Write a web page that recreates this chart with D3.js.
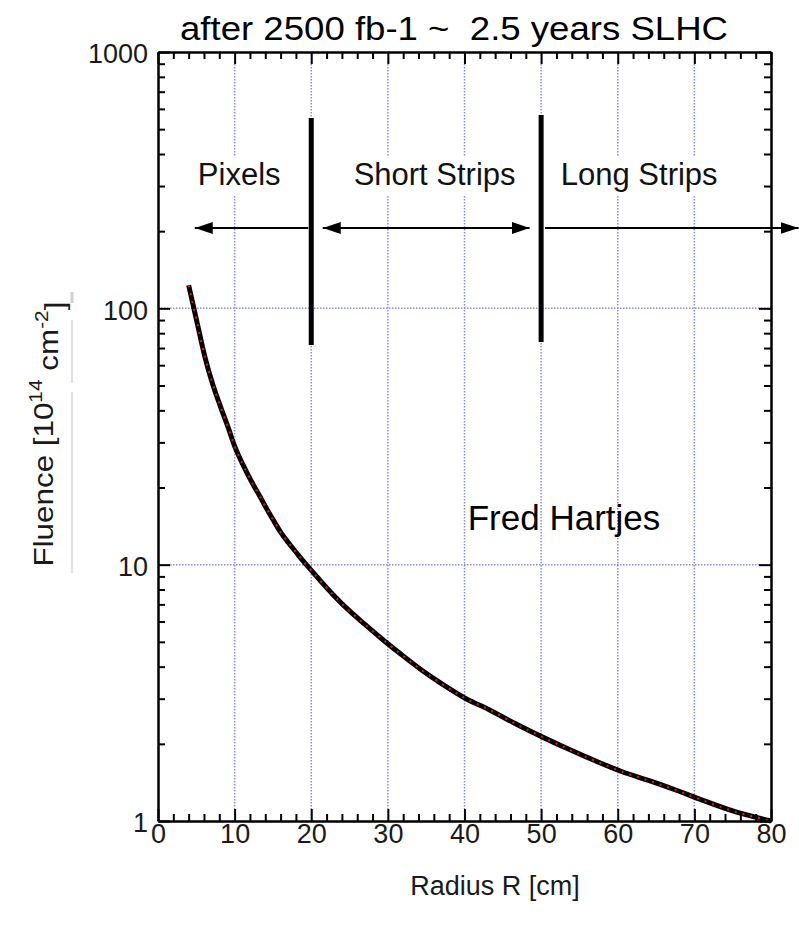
<!DOCTYPE html>
<html lang="en">
    <head>
        <meta charset="utf-8">
        <title>Fluence vs radius</title>
        <script type="text/javascript" src="https://d3js.org/d3.v7.min.js"></script>
        <style type="text/css">
            body{margin:0; background:#fff; font-family:"Liberation Sans", Arial, sans-serif;}
        </style>
    </head>
    <body>
        <div id="chart"></div>
        <script type="text/javascript">

        // values
        var radius  = [4, 5.1, 6.1, 7.1, 8.2, 9.2, 10, 11.1, 12.2, 13.2, 14, 15, 16, 17, 18.1, 19.1, 20, 21.2, 23.1, 25, 27, 29, 31.6, 34.3, 36.9, 40.2, 43.1, 46.6, 50.4, 53.7, 57.2, 60.5, 64.3, 67.3, 70.6, 74.8, 80]
        var fluence = [123, 88, 65, 51, 41, 34, 29, 24.5, 21.1, 18.7, 16.9, 15, 13.4, 12.2, 11.1, 10.2, 9.5, 8.65, 7.5, 6.6, 5.85, 5.2, 4.5, 3.9, 3.45, 3.0, 2.73, 2.4, 2.11, 1.9, 1.71, 1.56, 1.43, 1.33, 1.22, 1.1, 1.0]

        var xTicks = [0, 10, 20, 30, 40, 50, 60, 70, 80]
        var yTicks = [1, 10, 100, 1000]
        var xGrid = [10, 20, 30, 40, 50, 60, 70]
        var yGrid = [10, 100]

        // detector regions: boundaries and labels
        var boundaries = [20, 50]
        var regionNames = ["Pixels", "Short Strips", "Long Strips"]
        var regionCentres = [10.6, 36.1, 62.8]

        var margin = {top: 52, bottom: 119, left: 158, right: 28}
        var W = 799, H = 940
        var w = W - margin.left - margin.right
        var h = H - margin.top - margin.bottom

        var svg = d3.select("#chart")
                    .append("svg")
                    .attr("width", W)
                    .attr("height", H)
        var g = svg.append("g")
                   .attr("transform", "translate(" + margin.left + "," + margin.top + ")")

        var xScale = d3.scaleLinear().domain([0, 80]).range([0, w])
        var yScale = d3.scaleLog().domain([1, 1000]).range([h, 0])

        // title
        svg.append("text")
           .attr("x", 454)
           .attr("y", 40)
           .attr("text-anchor", "middle")
           .attr("font-size", "34px")
           .attr("textLength", 548)
           .attr("lengthAdjust", "spacingAndGlyphs")
           .style("white-space", "pre")
           .text("after 2500 fb-1 ~  2.5 years SLHC")

        // dotted grid
        var gridColor = "#8c8cf0"
        g.append("g").selectAll("line")
         .data(xGrid).enter().append("line")
         .attr("x1", function(d){ return xScale(d) })
         .attr("x2", function(d){ return xScale(d) })
         .attr("y1", 0).attr("y2", h)
         .attr("stroke", gridColor).attr("stroke-width", 1.5)
         .attr("stroke-dasharray", "1.5,1.5")
        g.append("g").selectAll("line")
         .data(yGrid).enter().append("line")
         .attr("x1", 0).attr("x2", w)
         .attr("y1", function(d){ return yScale(d) })
         .attr("y2", function(d){ return yScale(d) })
         .attr("stroke", gridColor).attr("stroke-width", 1.5)
         .attr("stroke-dasharray", "1.5,1.5")

        // region labels with white boxes that break the grid
        var labelY = 185
        var labels = g.append("g")
        regionNames.forEach(function(name, i){
            var t = labels.append("text")
                     .attr("x", xScale(regionCentres[i]))
                     .attr("y", labelY - margin.top)
                     .attr("text-anchor", "middle")
                     .attr("font-size", "31px")
                     .attr("fill", "#111")
                     .text(name)
            var bb = t.node().getBBox()
            labels.insert("rect", "text")
             .attr("x", bb.x - 4).attr("y", bb.y)
             .attr("width", bb.width + 8).attr("height", bb.height + 4)
             .attr("fill", "#fff")
        })
        labels.selectAll("text").raise()

        // arrows
        var defs = svg.append("defs")
        defs.append("marker")
            .attr("id", "head")
            .attr("viewBox", "0 0 18 12")
            .attr("refX", 18).attr("refY", 6)
            .attr("markerWidth", 18).attr("markerHeight", 12)
            .attr("markerUnits", "userSpaceOnUse")
            .attr("orient", "auto-start-reverse")
            .append("path").attr("d", "M0,0 L18,6 L0,12 Z").attr("fill", "#000")

        var arrowY = 228 - margin.top
        g.append("line")
         .attr("x1", xScale(20) - 3).attr("x2", xScale(4.8))
         .attr("y1", arrowY).attr("y2", arrowY)
         .attr("stroke", "#000").attr("stroke-width", 1.8)
         .attr("marker-end", "url(#head)")
        g.append("line")
         .attr("x1", xScale(21.5)).attr("x2", xScale(48.5))
         .attr("y1", arrowY).attr("y2", arrowY)
         .attr("stroke", "#000").attr("stroke-width", 1.8)
         .attr("marker-start", "url(#head)")
         .attr("marker-end", "url(#head)")
        g.append("line")
         .attr("x1", xScale(50.5)).attr("x2", xScale(83.6))
         .attr("y1", arrowY).attr("y2", arrowY)
         .attr("stroke", "#000").attr("stroke-width", 1.8)
         .attr("marker-end", "url(#head)")

        // boundary bars
        g.append("g").selectAll("line")
         .data(boundaries).enter().append("line")
         .attr("x1", function(d){ return xScale(d) })
         .attr("x2", function(d){ return xScale(d) })
         .attr("y1", function(d){ return d == 20 ? 118 - margin.top : 115 - margin.top })
         .attr("y2", function(d){ return d == 20 ? 345 - margin.top : 342 - margin.top })
         .attr("stroke", "#000").attr("stroke-width", 5)

        // curve: thick black with red dots
        var pts = radius.map(function(r, i){ return [r, fluence[i]] })
        var line = d3.line()
                     .x(function(d){ return xScale(d[0]) })
                     .y(function(d){ return yScale(d[1]) })
                     .curve(d3.curveMonotoneX)
        g.append("path").datum(pts)
         .attr("d", line)
         .attr("fill", "none").attr("stroke", "#000").attr("stroke-width", 5)
         .attr("stroke-linejoin", "round")
        g.append("path").datum(pts)
         .attr("d", line)
         .attr("fill", "none").attr("stroke", "#e8141c").attr("stroke-width", 2)
         .attr("stroke-dasharray", "2,6")

        // axes with inward ticks on all four sides
        var xMinor = d3.range(0, 81, 2).filter(function(d){ return d % 10 != 0 })
        var yMinor = []
        ;[1, 10, 100].forEach(function(p){ d3.range(2, 10).forEach(function(m){ yMinor.push(p * m) }) })

        function styleAxis(sel){
            sel.selectAll("path").attr("stroke", "#000").attr("stroke-width", 2)
            sel.selectAll("line").attr("stroke", "#000").attr("stroke-width", 2)
        }

        var axBottom = g.append("g").attr("transform", "translate(0," + h + ")")
        axBottom.call(d3.axisBottom(xScale).tickValues(xMinor).tickSize(-7).tickFormat("").tickSizeOuter(0))
        axBottom.append("g").call(d3.axisBottom(xScale).tickValues(xTicks).tickSize(-12).tickPadding(3).tickSizeOuter(0))
        styleAxis(axBottom)

        var axTop = g.append("g")
        axTop.call(d3.axisTop(xScale).tickValues(xMinor).tickSize(-7).tickFormat("").tickSizeOuter(0))
        axTop.append("g").call(d3.axisTop(xScale).tickValues(xTicks).tickSize(-12).tickFormat("").tickSizeOuter(0))
        styleAxis(axTop)

        var axLeft = g.append("g")
        axLeft.call(d3.axisLeft(yScale).tickValues(yMinor).tickSize(-7).tickFormat("").tickSizeOuter(0))
        axLeft.append("g").call(d3.axisLeft(yScale).tickValues(yTicks).tickSize(-12).tickPadding(10).tickFormat(d3.format("d")).tickSizeOuter(0))
        styleAxis(axLeft)

        var axRight = g.append("g").attr("transform", "translate(" + w + ",0)")
        axRight.call(d3.axisRight(yScale).tickValues(yMinor).tickSize(-7).tickFormat("").tickSizeOuter(0))
        axRight.append("g").call(d3.axisRight(yScale).tickValues(yTicks).tickSize(-12).tickFormat("").tickSizeOuter(0))
        styleAxis(axRight)

        g.selectAll(".tick text")
         .attr("font-family", "'Liberation Sans', Arial, sans-serif")
         .attr("font-size", "27px")
         .attr("fill", "#1a1a1a")
        axLeft.selectAll(".tick text").attr("dy", "0.4em")

        // axis titles
        svg.append("text")
           .attr("x", 495)
           .attr("y", 895)
           .attr("text-anchor", "middle")
           .attr("font-size", "27px")
           .attr("fill", "#1a1a1a")
           .text("Radius R [cm]")

        var yl = svg.append("text")
                    .attr("transform", "translate(53,434) rotate(-90)")
                    .attr("text-anchor", "middle")
                    .attr("font-size", "27px")
                    .attr("fill", "#1a1a1a")
                    .attr("textLength", 265)
                    .attr("lengthAdjust", "spacingAndGlyphs")
        yl.append("tspan").text("Fluence [10")
        yl.append("tspan").attr("dy", "-0.6em").attr("font-size", "18px").text("14")
        yl.append("tspan").attr("dy", "0.6em").text(" cm")
        yl.append("tspan").attr("dy", "-0.6em").attr("font-size", "18px").text("-2")
        yl.append("tspan").attr("dy", "0.6em").text("]")

        // faint rule beside the y title
        svg.append("line")
           .attr("x1", 72).attr("x2", 72).attr("y1", 292).attr("y2", 303)
           .attr("stroke", "#d0d0d0").attr("stroke-width", 3)
        svg.append("line")
           .attr("x1", 72).attr("x2", 72).attr("y1", 320).attr("y2", 383)
           .attr("stroke", "#d8d8d8").attr("stroke-width", 1.5)
        svg.append("line")
           .attr("x1", 72).attr("x2", 72).attr("y1", 392).attr("y2", 573)
           .attr("stroke", "#d8d8d8").attr("stroke-width", 1.5)

        // author
        svg.append("text")
           .attr("x", 564)
           .attr("y", 530)
           .attr("text-anchor", "middle")
           .attr("font-size", "35px")
           .attr("fill", "#000")
           .text("Fred Hartjes")

        </script>
    </body>
</html>
